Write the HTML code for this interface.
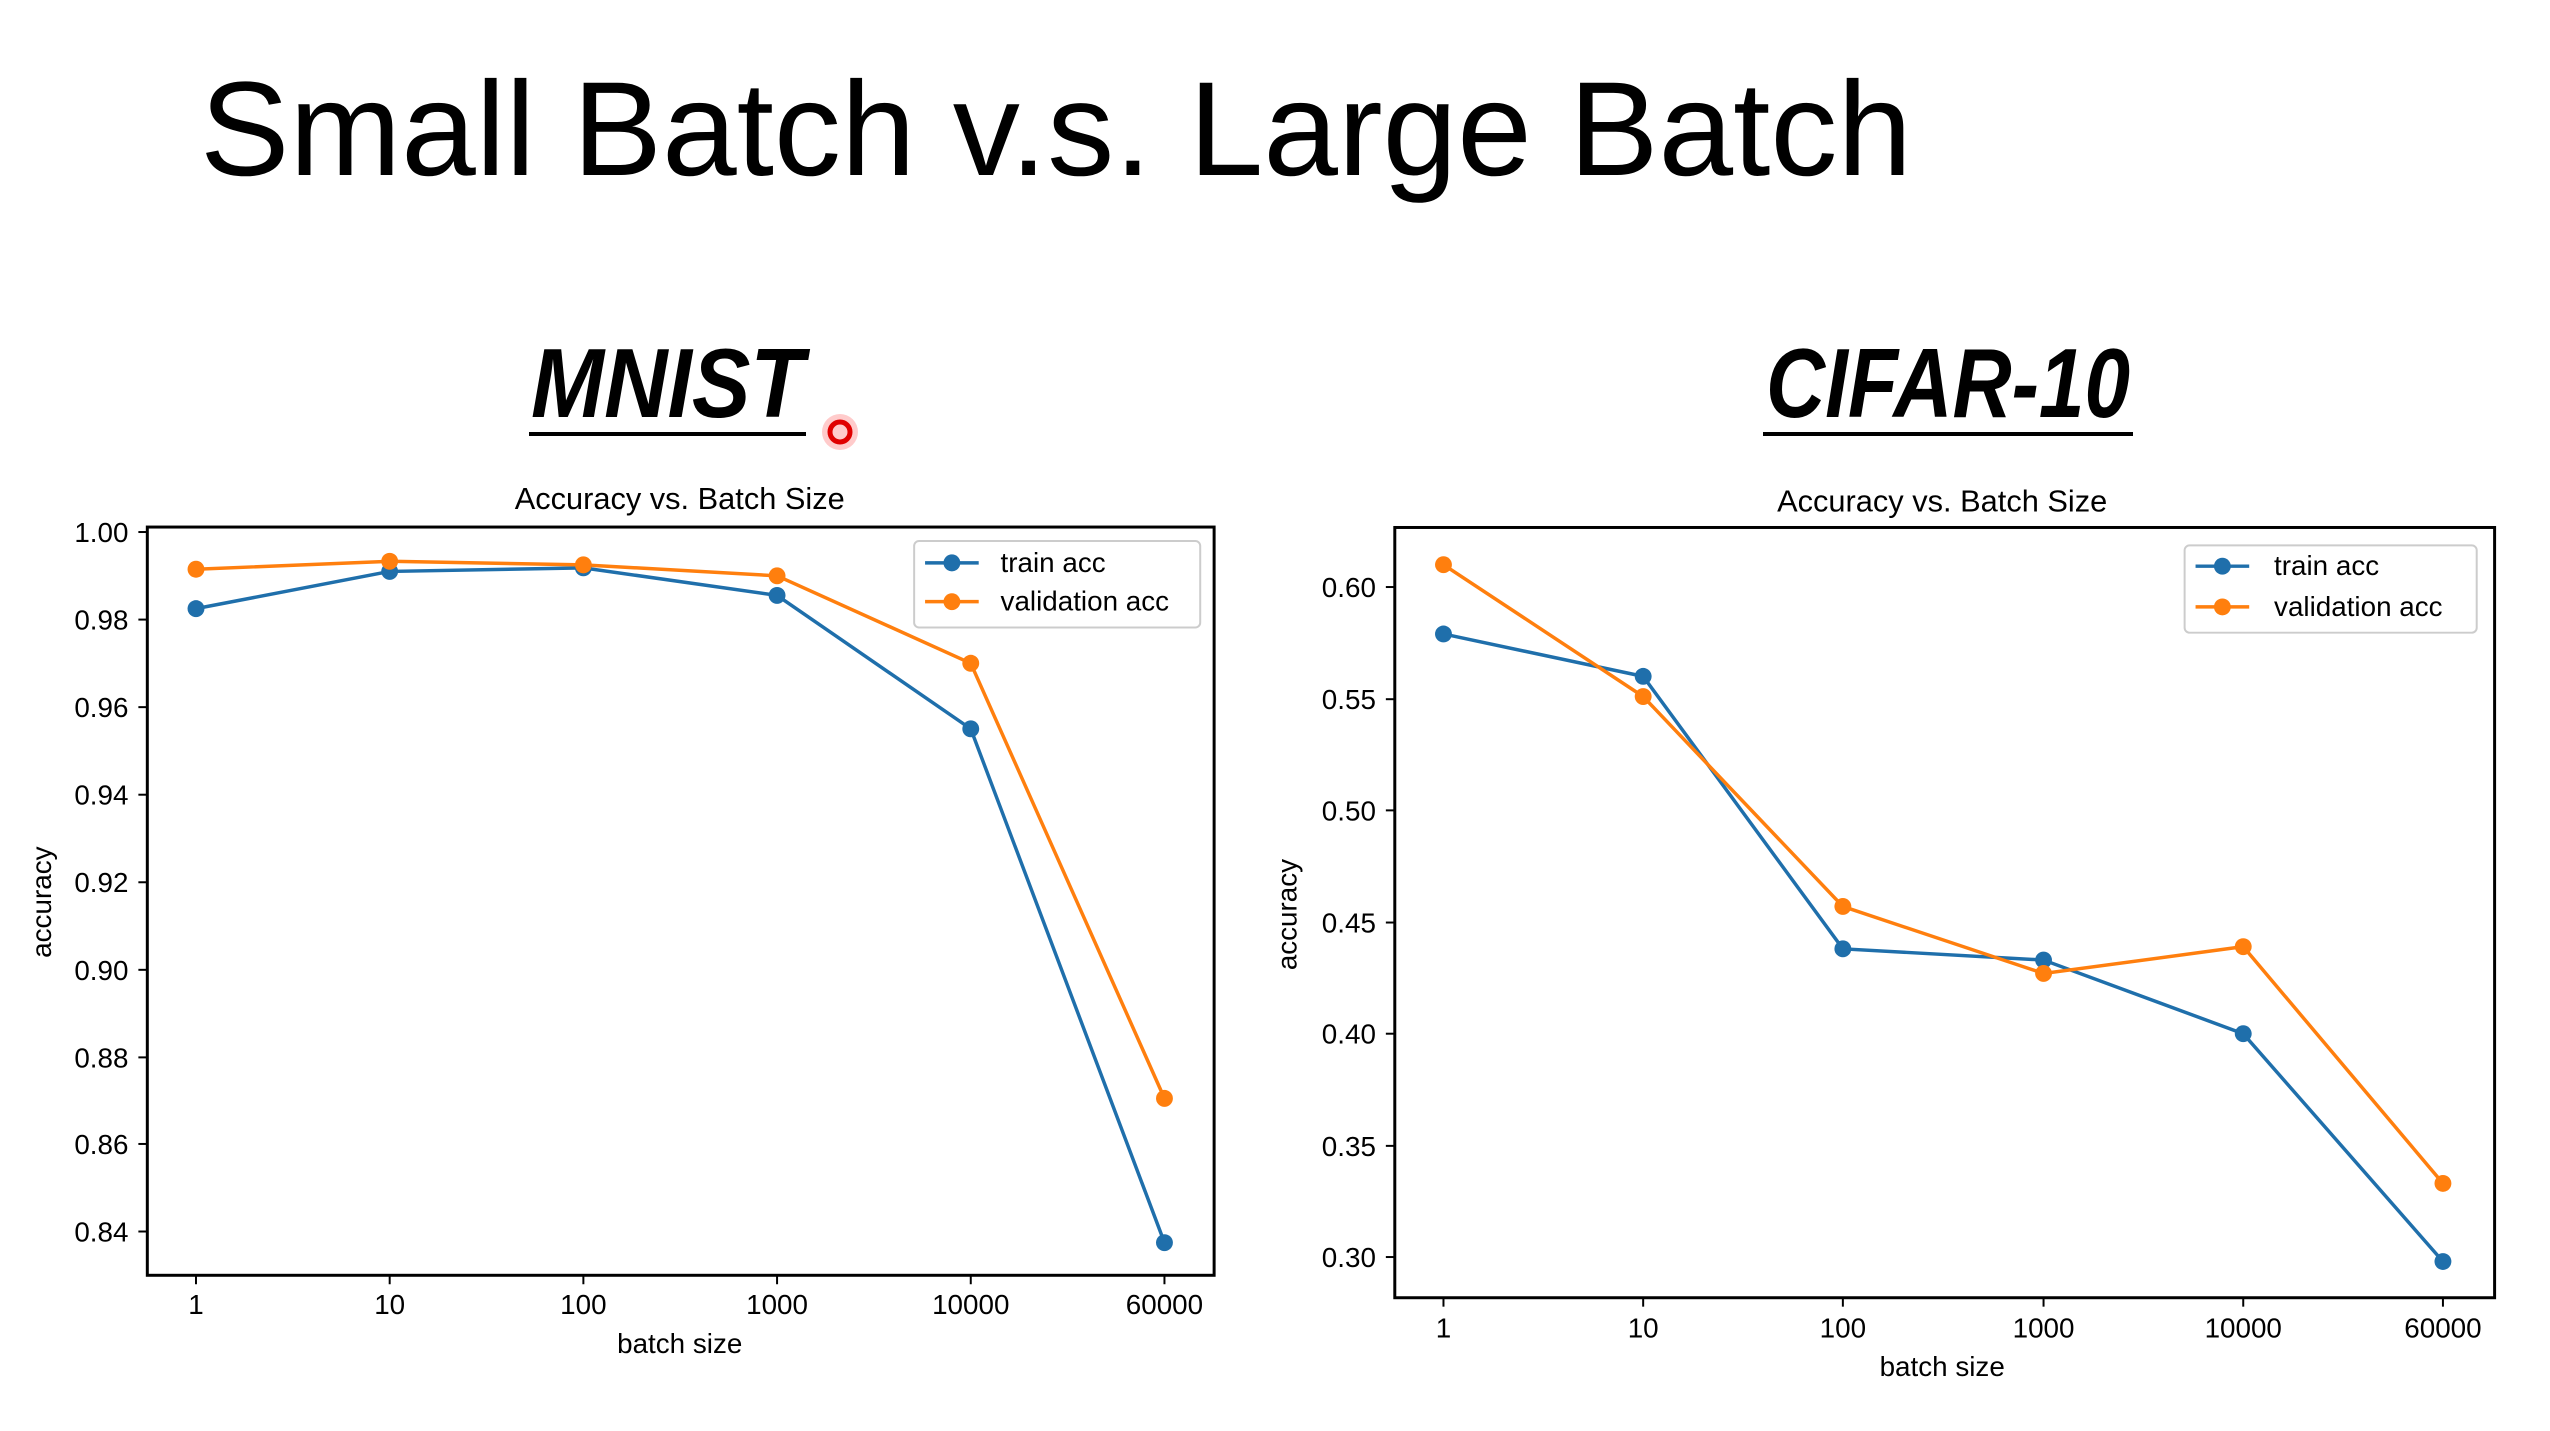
<!DOCTYPE html>
<html><head><meta charset="utf-8"><style>
html,body{margin:0;padding:0;background:#fff;}
svg{display:block;}
text{font-family:"Liberation Sans","DejaVu Sans",sans-serif;fill:#000;}
</style></head><body>
<svg width="2550" height="1431" viewBox="0 0 2550 1431" xmlns="http://www.w3.org/2000/svg">
<rect width="2550" height="1431" fill="#fff"/>
<text x="200" y="175" font-size="134" textLength="1712" lengthAdjust="spacingAndGlyphs">Small Batch v.s. Large Batch</text>
<text x="531" y="417" font-size="98" font-weight="bold" font-style="italic" textLength="273" lengthAdjust="spacingAndGlyphs">MNIST</text>
<rect x="529" y="432" width="277" height="4" fill="#000"/>
<text x="1766" y="417" font-size="98" font-weight="bold" font-style="italic" textLength="364" lengthAdjust="spacingAndGlyphs">CIFAR-10</text>
<rect x="1763" y="432" width="370" height="4" fill="#000"/>
<circle cx="840" cy="432" r="18" fill="#ff3030" opacity="0.25"/>
<circle cx="840" cy="432" r="10" fill="none" stroke="#e00000" stroke-width="5"/>

<!-- Left chart -->
<g font-size="28" transform="matrix(0.9933 0 0 0.995 1.3 -0.3)">
<text x="683" y="512" text-anchor="middle" font-size="31">Accuracy vs. Batch Size</text>
<rect x="147" y="530" width="1074" height="752" fill="none" stroke="#000" stroke-width="3"/>
<g text-anchor="end">
<text x="128" y="545">1.00</text><line x1="138" y1="535" x2="147" y2="535" stroke="#000" stroke-width="2"/>
<text x="128" y="633">0.98</text><line x1="138" y1="623" x2="147" y2="623" stroke="#000" stroke-width="2"/>
<text x="128" y="721">0.96</text><line x1="138" y1="711" x2="147" y2="711" stroke="#000" stroke-width="2"/>
<text x="128" y="809">0.94</text><line x1="138" y1="799" x2="147" y2="799" stroke="#000" stroke-width="2"/>
<text x="128" y="897">0.92</text><line x1="138" y1="887" x2="147" y2="887" stroke="#000" stroke-width="2"/>
<text x="128" y="985">0.90</text><line x1="138" y1="975" x2="147" y2="975" stroke="#000" stroke-width="2"/>
<text x="128" y="1073">0.88</text><line x1="138" y1="1063" x2="147" y2="1063" stroke="#000" stroke-width="2"/>
<text x="128" y="1160">0.86</text><line x1="138" y1="1150" x2="147" y2="1150" stroke="#000" stroke-width="2"/>
<text x="128" y="1248">0.84</text><line x1="138" y1="1238" x2="147" y2="1238" stroke="#000" stroke-width="2"/>
</g>
<g text-anchor="middle">
<text x="196" y="1321">1</text><text x="391" y="1321">10</text><text x="586" y="1321">100</text><text x="781" y="1321">1000</text><text x="976" y="1321">10000</text><text x="1171" y="1321">60000</text>
<text x="683" y="1360">batch size</text>
</g>
<g stroke="#000" stroke-width="2">
<line x1="196" y1="1282" x2="196" y2="1291"/><line x1="391" y1="1282" x2="391" y2="1291"/><line x1="586" y1="1282" x2="586" y2="1291"/><line x1="781" y1="1282" x2="781" y2="1291"/><line x1="976" y1="1282" x2="976" y2="1291"/><line x1="1171" y1="1282" x2="1171" y2="1291"/>
</g>
<text transform="translate(50,907) rotate(-90)" text-anchor="middle">accuracy</text>
<polyline points="196,612 391,574.6 586,571 781,598.7 976,732.8 1171,1249.2" fill="none" stroke="#1f6fab" stroke-width="3.5"/>
<polyline points="196,572.4 391,564.4 586,568 781,579 976,666.9 1171,1104.2" fill="none" stroke="#ff7f0e" stroke-width="3.5"/>
<g fill="#1f6fab"><circle cx="196" cy="612" r="8.5"/><circle cx="391" cy="574.6" r="8.5"/><circle cx="586" cy="571" r="8.5"/><circle cx="781" cy="598.7" r="8.5"/><circle cx="976" cy="732.8" r="8.5"/><circle cx="1171" cy="1249.2" r="8.5"/></g>
<g fill="#ff7f0e"><circle cx="196" cy="572.4" r="8.5"/><circle cx="391" cy="564.4" r="8.5"/><circle cx="586" cy="568" r="8.5"/><circle cx="781" cy="579" r="8.5"/><circle cx="976" cy="666.9" r="8.5"/><circle cx="1171" cy="1104.2" r="8.5"/></g>
<rect x="919" y="544" width="288" height="87" rx="5" fill="#fff" stroke="#ccc" stroke-width="2"/>
<line x1="930" y1="566" x2="984" y2="566" stroke="#1f6fab" stroke-width="3.5"/><circle cx="957" cy="566" r="8.5" fill="#1f6fab"/>
<line x1="930" y1="605" x2="984" y2="605" stroke="#ff7f0e" stroke-width="3.5"/><circle cx="957" cy="605" r="8.5" fill="#ff7f0e"/>
<text x="1006" y="575">train acc</text>
<text x="1006" y="614">validation acc</text>
</g>

<!-- Right chart -->
<g font-size="28" transform="matrix(0.9935 0 0 0.9926 2.9 1.4)">
<text x="1952" y="514" text-anchor="middle" font-size="31">Accuracy vs. Batch Size</text>
<rect x="1401" y="530" width="1107" height="776" fill="none" stroke="#000" stroke-width="3"/>
<g text-anchor="end">
<text x="1382" y="600">0.60</text><line x1="1392" y1="590" x2="1401" y2="590" stroke="#000" stroke-width="2"/>
<text x="1382" y="713">0.55</text><line x1="1392" y1="703" x2="1401" y2="703" stroke="#000" stroke-width="2"/>
<text x="1382" y="825">0.50</text><line x1="1392" y1="815" x2="1401" y2="815" stroke="#000" stroke-width="2"/>
<text x="1382" y="938">0.45</text><line x1="1392" y1="928" x2="1401" y2="928" stroke="#000" stroke-width="2"/>
<text x="1382" y="1050">0.40</text><line x1="1392" y1="1040" x2="1401" y2="1040" stroke="#000" stroke-width="2"/>
<text x="1382" y="1163">0.35</text><line x1="1392" y1="1153" x2="1401" y2="1153" stroke="#000" stroke-width="2"/>
<text x="1382" y="1275">0.30</text><line x1="1392" y1="1265" x2="1401" y2="1265" stroke="#000" stroke-width="2"/>
</g>
<g text-anchor="middle">
<text x="1450" y="1346">1</text><text x="1651" y="1346">10</text><text x="1852" y="1346">100</text><text x="2054" y="1346">1000</text><text x="2255" y="1346">10000</text><text x="2456" y="1346">60000</text>
<text x="1952" y="1385">batch size</text>
</g>
<g stroke="#000" stroke-width="2">
<line x1="1450" y1="1306" x2="1450" y2="1315"/><line x1="1651" y1="1306" x2="1651" y2="1315"/><line x1="1852" y1="1306" x2="1852" y2="1315"/><line x1="2054" y1="1306" x2="2054" y2="1315"/><line x1="2255" y1="1306" x2="2255" y2="1315"/><line x1="2456" y1="1306" x2="2456" y2="1315"/>
</g>
<text transform="translate(1302,920) rotate(-90)" text-anchor="middle">accuracy</text>
<polyline points="1450,637.3 1651,680 1852,954.5 2054,965.8 2255,1040 2456,1269.5" fill="none" stroke="#1f6fab" stroke-width="3.5"/>
<polyline points="1450,567.5 1651,700.3 1852,911.8 2054,979.3 2255,952.3 2456,1190.8" fill="none" stroke="#ff7f0e" stroke-width="3.5"/>
<g fill="#1f6fab"><circle cx="1450" cy="637.3" r="8.5"/><circle cx="1651" cy="680" r="8.5"/><circle cx="1852" cy="954.5" r="8.5"/><circle cx="2054" cy="965.8" r="8.5"/><circle cx="2255" cy="1040" r="8.5"/><circle cx="2456" cy="1269.5" r="8.5"/></g>
<g fill="#ff7f0e"><circle cx="1450" cy="567.5" r="8.5"/><circle cx="1651" cy="700.3" r="8.5"/><circle cx="1852" cy="911.8" r="8.5"/><circle cx="2054" cy="979.3" r="8.5"/><circle cx="2255" cy="952.3" r="8.5"/><circle cx="2456" cy="1190.8" r="8.5"/></g>
<rect x="2196" y="548" width="294" height="88" rx="5" fill="#fff" stroke="#ccc" stroke-width="2"/>
<line x1="2207" y1="569" x2="2261" y2="569" stroke="#1f6fab" stroke-width="3.5"/><circle cx="2234" cy="569" r="8.5" fill="#1f6fab"/>
<line x1="2207" y1="610" x2="2261" y2="610" stroke="#ff7f0e" stroke-width="3.5"/><circle cx="2234" cy="610" r="8.5" fill="#ff7f0e"/>
<text x="2286" y="578">train acc</text>
<text x="2286" y="619">validation acc</text>
</g>
</svg>
</body></html>
